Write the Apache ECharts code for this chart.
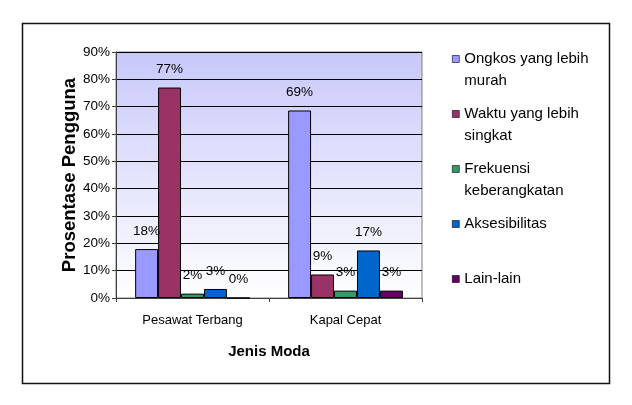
<!DOCTYPE html>
<html>
<head>
<meta charset="utf-8">
<script src="https://cdn.jsdelivr.net/npm/echarts@6/dist/echarts.min.js"></script>
<style>html,body{margin:0;padding:0;background:#fff}#c{width:632px;height:405px}</style>
</head>
<body>
<div id="c"></div>
<script>
var categories = ['Pesawat Terbang', 'Kapal Cepat'];
var seriesNames = ['Ongkos yang lebih murah', 'Waktu yang lebih singkat', 'Frekuensi keberangkatan', 'Aksesibilitas', 'Lain-lain'];
var legendLabels = ['Ongkos yang lebih\nmurah', 'Waktu yang lebih\nsingkat', 'Frekuensi\nkeberangkatan', 'Aksesibilitas\n ', 'Lain-lain\n '];
var ongkos = [17.9, 68.6];
var waktu = [77.0, 8.6];
var frekuensi = [1.6, 2.7];
var aksesibilitas = [3.3, 17.4];
var lainLain = [0, 2.7];
var colors = ['#9999FF', '#993366', '#339966', '#0066CC', '#660066'];
var yTicks = [0, 10, 20, 30, 40, 50, 60, 70, 80, 90];

var values = [ongkos, waktu, frekuensi, aksesibilitas, lainLain];
var font = '"Liberation Sans", Arial, sans-serif';

var chart = echarts.init(document.getElementById('c'), null, {renderer: 'canvas'});
var series = seriesNames.map(function (n, i) {
  return {
    name: n,
    type: 'bar',
    data: values[i],
    barGap: '0%',
    barCategoryGap: '25%',
    itemStyle: {color: colors[i], borderColor: '#000', borderWidth: 1},
    label: {
      show: true, position: 'top', distance: 11,
      fontFamily: font, fontSize: 13.5, color: '#000',
      formatter: function (p) { return Math.round(p.value) + '%'; }
    }
  };
});
var legendMap = {};
seriesNames.forEach(function (n, i) { legendMap[n] = legendLabels[i]; });

chart.setOption({
  animation: false,
  backgroundColor: '#fff',
  graphic: [{
    type: 'rect', shape: {x: 22.5, y: 23.5, width: 587, height: 360},
    style: {fill: 'none', stroke: '#111', lineWidth: 1.5}, silent: true
  }],
  grid: {
    left: 116, top: 52, right: 210, bottom: 107,
    show: true, borderColor: '#808080', borderWidth: 1,
    backgroundColor: {
      type: 'linear', x: 0, y: 0, x2: 0, y2: 1,
      colorStops: [{offset: 0, color: '#C8C8FA'}, {offset: 1, color: '#FFFFFF'}]
    }
  },
  legend: {
    orient: 'vertical', left: 452, top: 48, height: 330, padding: 0,
    itemWidth: 7, itemHeight: 29, itemGap: 11,
    icon: 'path://M0,0h7v7h-7zM3.5,29h0.01v0.01h-0.01z',
    itemStyle: {borderColor: '#000', borderWidth: 0.6},
    textStyle: {fontFamily: font, fontSize: 15, color: '#000', lineHeight: 22},
    formatter: function (n) { return legendMap[n]; },
    data: seriesNames
  },
  xAxis: {
    type: 'category', data: categories,
    axisLine: {lineStyle: {color: '#404040'}},
    axisTick: {show: true, length: 4, lineStyle: {color: '#404040'}},
    axisLabel: {fontFamily: font, fontSize: 13, color: '#000', margin: 16},
    name: 'Jenis Moda', nameLocation: 'middle', nameGap: 46,
    nameTextStyle: {fontFamily: font, fontSize: 15, fontWeight: 'bold', color: '#000'}
  },
  yAxis: {
    type: 'value', min: yTicks[0], max: yTicks[yTicks.length - 1], interval: 10,
    axisLine: {show: true, lineStyle: {color: '#404040'}},
    axisTick: {show: true, length: 4, lineStyle: {color: '#404040'}},
    axisLabel: {fontFamily: font, fontSize: 13.5, color: '#000', margin: 6, formatter: '{value}%'},
    splitLine: {show: true, lineStyle: {color: '#000', width: 1}},
    name: 'Prosentase Pengguna', nameLocation: 'middle', nameGap: 37, nameRotate: 90,
    nameTextStyle: {fontFamily: font, fontSize: 18.5, fontWeight: 'bold', color: '#000'}
  },
  series: series
});
</script>
</body>
</html>
